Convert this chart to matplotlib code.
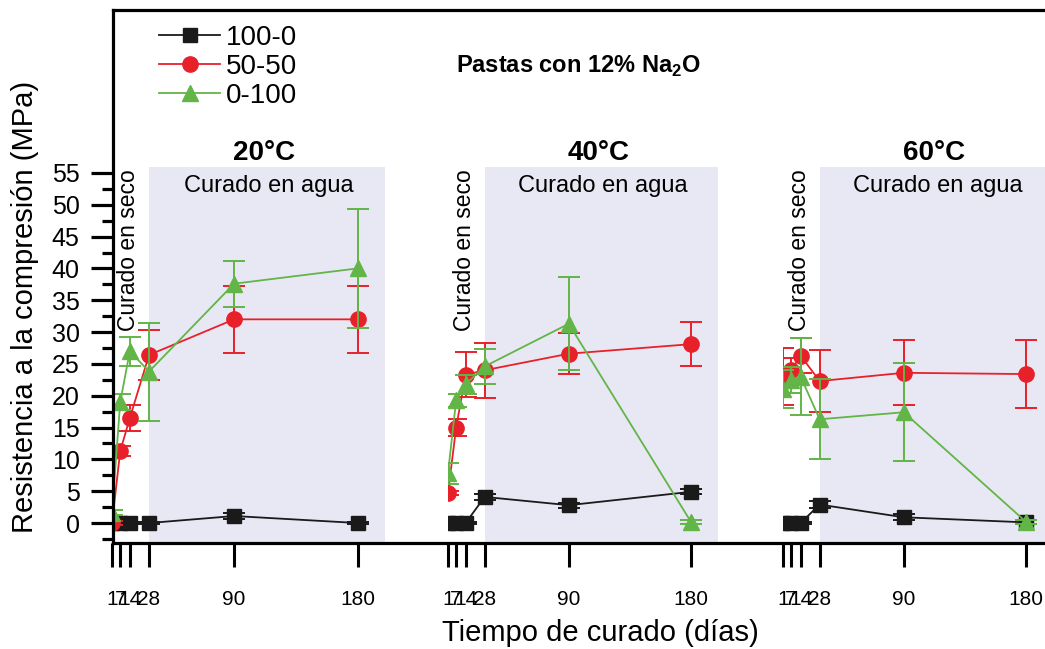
import matplotlib.pyplot as plt
import numpy as np

plt.rcParams['font.family'] = ['Liberation Sans', 'DejaVu Sans']
plt.rcParams['mathtext.fontset'] = 'custom'
plt.rcParams['mathtext.rm'] = 'Liberation Sans'
plt.rcParams['mathtext.bf'] = 'Liberation Sans:bold'

# curing time (days)
days = [1, 7, 14, 28, 90, 180]
day_labels = ['1', '7', '14', '28', '90', '180']
temps = ['20°C', '40°C', '60°C']
series = ['100-0', '50-50', '0-100']

# compressive strength (MPa) and error bars, one list per temperature
black_20 = [0, 0, 0, 0, 1.1, 0]
black_20_err = [0.2, 0.2, 0.2, 0.2, 0.4, 0.2]
red_20 = [0, 11.3, 16.5, 26.4, 32.0, 32.0]
red_20_err = [0.3, 0.8, 2.1, 4.0, 5.3, 5.3]
green_20 = [1.6, 19.0, 27.0, 23.8, 37.6, 40.0]
green_20_err = [0.4, 1.2, 2.3, 7.7, 3.6, 9.4]

black_40 = [0, 0, 0, 4.1, 2.8, 4.9]
black_40_err = [0.2, 0.2, 0.2, 0.5, 0.4, 0.4]
red_40 = [4.7, 15.0, 23.3, 24.0, 26.6, 28.1]
red_40_err = [0.3, 1.3, 3.5, 4.3, 3.2, 3.5]
green_40 = [7.8, 19.3, 21.8, 24.6, 31.3, 0.2]
green_40_err = [1.6, 1.0, 1.5, 2.8, 7.3, 0.3]

black_60 = [0, 0, 0, 2.9, 0.9, 0.1]
black_60_err = [0.2, 0.2, 0.2, 0.5, 0.5, 0.3]
red_60 = [23.0, 24.0, 26.3, 22.3, 23.6, 23.4]
red_60_err = [4.5, 2.0, 2.7, 4.9, 5.1, 5.3]
green_60 = [21.0, 22.5, 23.0, 16.3, 17.4, 0.2]
green_60_err = [3.0, 2.0, 6.0, 6.3, 7.7, 0.3]

data = [
    [(black_20, black_20_err), (red_20, red_20_err), (green_20, green_20_err)],
    [(black_40, black_40_err), (red_40, red_40_err), (green_40, green_40_err)],
    [(black_60, black_60_err), (red_60, red_60_err), (green_60, green_60_err)],
]

colors = ['#1a1a1a', '#e8202a', '#62b546']
markers = ['s', 'o', '^']
msizes = [10, 11, 11]
shade = '#e8e8f4'

W, H = 1045, 649
fig = plt.figure(figsize=(W / 100, H / 100), dpi=100)
bottom = 1 - 543 / H
height = (543 - 10) / H
ylim = (-3.14, 80.6)

# frame axes with the y scale
ax = fig.add_axes([113 / W, bottom, (1070 - 113) / W, height])
ax.set_ylim(*ylim)
ax.set_xlim(0, 1)
ax.set_xticks([])
ax.spines['right'].set_visible(False)
for s in ['left', 'top', 'bottom']:
    ax.spines[s].set_linewidth(2.3)
ax.set_yticks(np.arange(0, 56, 5))
ax.set_yticks(np.arange(-2.5, 55, 5), minor=True)
ax.tick_params(axis='y', which='major', length=16, width=2.3, labelsize=18, pad=8)
ax.tick_params(axis='y', which='minor', length=8, width=2.3)
ax.patch.set_visible(False)
ax.set_zorder(5)

panel_px = [(112, 385), (448, 718), (783, 1053)]
handles = []
for k, (l, r) in enumerate(panel_px):
    pax = fig.add_axes([l / W, bottom, (r - l) / W, height])
    pax.set_xlim(1, 200)
    pax.set_ylim(*ylim)
    pax.patch.set_visible(False)
    for s in pax.spines.values():
        s.set_visible(False)
    pax.set_yticks([])
    pax.set_xticks(days)
    pax.set_xticklabels(day_labels, family=['Liberation Sans Narrow', 'Liberation Sans'])
    pax.tick_params(axis='x', length=17, width=2.2, labelsize=15, pad=17)
    pax.fill_between([28, 200], -5, 56, color=shade, lw=0, zorder=0)

    for j, (vals, err) in enumerate(data[k]):
        pax.errorbar(days, vals, yerr=err, fmt='none', ecolor=colors[j],
                     elinewidth=1.4, capsize=8, capthick=1.4, zorder=2 + j)
        line, = pax.plot(days, vals, color=colors[j], marker=markers[j],
                         markersize=msizes[j], lw=1.3, zorder=2.5 + j, label=series[j])
        if k == 0:
            handles.append(line)

    pax.text(112, 58.2, temps[k], ha='center', va='center', weight='bold', size=20)
    pax.text(115, 53.0, 'Curado en agua', ha='center', va='center', size=17)
    pax.text(13, 55.6, 'Curado en seco', rotation=90, ha='center', va='top', size=16.5)

fig.text(578 / W, 1 - 66 / H, r'Pastas con 12% Na$_\mathbf{2}$O', weight='bold',
         size=17, ha='center', va='center')
fig.text(25 / W, 1 - 307 / H, 'Resistencia a la compresión (MPa)', rotation=90,
         ha='center', va='center', size=21)
fig.text(600 / W, 1 - 633 / H, 'Tiempo de curado (días)', ha='center', va='center', size=21)

fig.legend(handles=handles, labels=series, loc='upper left',
           bbox_to_anchor=(159 / W, 1 - 25 / H), frameon=False, fontsize=20,
           handlelength=2.2, handletextpad=0.2, labelspacing=0.1,
           borderaxespad=0, borderpad=0)

fig.savefig('out.png', dpi=100)
